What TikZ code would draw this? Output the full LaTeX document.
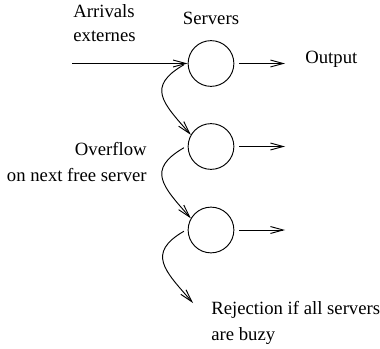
\documentclass[tikz,border=0pt]{standalone}
\usepackage{fontspec}
\setmainfont{Liberation Serif}
\usetikzlibrary{arrows.meta}
\tikzset{
server/.style={draw, circle, minimum size=8.6mm, inner sep=0pt, line width=0.5pt},
txt/.style={inner sep=0pt, font=\fontsize{10}{14}\selectfont},
flow/.style={-{Straight Barb[length=2.4mm, width=1.3mm]}, line width=0.5pt},
}

\begin{document}
\begin{tikzpicture}[x=0.0188cm, y=-0.0188cm]
    \useasboundingbox (0,0) rectangle (380,349);

    %servers and labels
    \node[server] (s1) at (211,63.5) {};
    \node[server] (s2) at (211,146.5) {};
    \node[server] (s3) at (211,230) {};
    \node[txt, anchor=base] (srv) at (211,25) {Servers};
    \node[txt, anchor=west, align=left, font=\fontsize{10}{13}\selectfont] (arr) at (73,23) {Arrivals\\externes};
    \node[txt, anchor=base west] (out) at (305,63.5) {Output};
    \node[txt, anchor=east, align=right] (ovf) at (147,162) {Overflow\\on next free server};
    \node[txt, anchor=west, align=left] (rej) at (211,323) {Rejection if all servers\\are buzy};

    %free ends
    \coordinate (in) at (72,63.5);
    \coordinate (o1) at (285,63.5);
    \coordinate (o2) at (285,146.5);
    \coordinate (o3) at (285,230);
    \coordinate (drop) at (193,303);

    %arrows
    \draw[flow] (in) -- (s1);
    \draw[flow, shorten <=2.7pt] (s1) -- (o1);
    \draw[flow, shorten <=2.7pt] (s2) -- (o2);
    \draw[flow, shorten <=2.7pt] (s3) -- (o3);

    %overflow curves
    \draw[flow] ([xshift=-2pt]s1.183) .. controls +(-38,22) and +(-28,-32) .. (s2.150);
    \draw[flow] ([xshift=-2pt]s2.183) .. controls +(-38,22) and +(-28,-32) .. (s3.150);
    \draw[flow] ([xshift=-2pt]s3.183) .. controls +(-38,22) and +(-28,-32) .. (drop);

\end{tikzpicture}
\end{document}
